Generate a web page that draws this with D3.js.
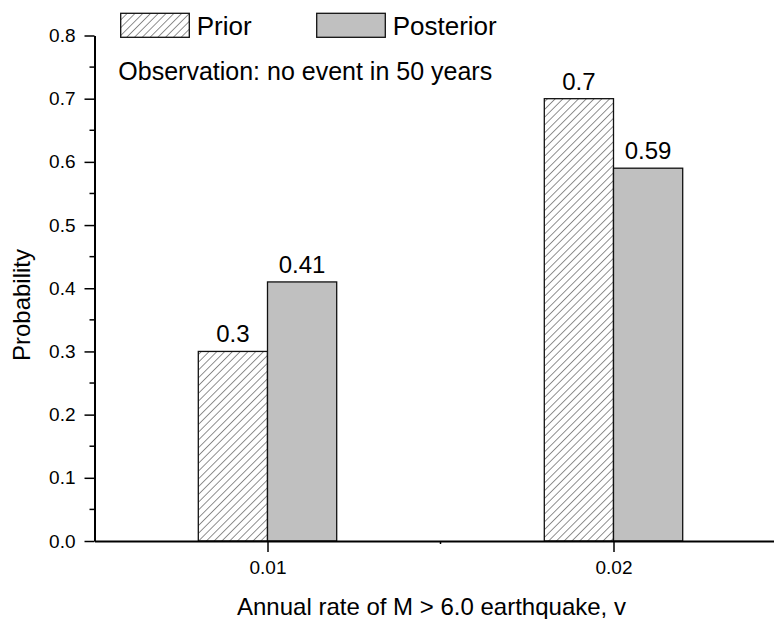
<!DOCTYPE html>
<html>
<head>
<meta charset="utf-8">
<script src="https://cdn.jsdelivr.net/npm/d3@7"></script>
<style>
  html, body { margin: 0; padding: 0; background: #fff; }
  text { font-family: "Liberation Sans", Arial, sans-serif; fill: #000; }
</style>
</head>
<body>
<svg id="chart" width="774" height="619"></svg>
<script>
// ---- data ----
const categories = [0.01, 0.02];
const priorValues = [0.3, 0.7];
const posteriorValues = [0.41, 0.59];
const priorLabels = ["0.3", "0.7"];
const posteriorLabels = ["0.41", "0.59"];
const yTickValues = [0, 0.1, 0.2, 0.3, 0.4, 0.5, 0.6, 0.7, 0.8];
const yTickLabels = ["0.0", "0.1", "0.2", "0.3", "0.4", "0.5", "0.6", "0.7", "0.8"];
const yMinorValues = [0.05, 0.15, 0.25, 0.35, 0.45, 0.55, 0.65, 0.75];
const xTickValues = [0.01, 0.02];
const xTickLabels = ["0.01", "0.02"];
const xMinorValues = [0.015];
const seriesNames = ["Prior", "Posterior"];
const note = "Observation: no event in 50 years";
const xTitle = "Annual rate of M > 6.0 earthquake, v";
const yTitle = "Probability";

// ---- layout ----
const svg = d3.select("#chart");
const axisLeft = 94.5, axisBottom = 541;
const x = d3.scaleLinear().domain([0.005, 0.025]).range([axisLeft, axisLeft + 0.02 * 34600]);
const y = d3.scaleLinear().domain([0, 0.8]).range([axisBottom, 35.5]);
const barW = 0.002;

// hatch pattern
const defs = svg.append("defs");
const pat = defs.append("pattern")
  .attr("id", "hatch").attr("patternUnits", "userSpaceOnUse")
  .attr("width", 5.5).attr("height", 5.5)
  .attr("patternTransform", "rotate(45)");
pat.append("rect").attr("width", 5.5).attr("height", 5.5).attr("fill", "#fff");
pat.append("line").attr("x1", 0).attr("y1", 0).attr("x2", 0).attr("y2", 5.5)
  .attr("stroke", "#222").attr("stroke-width", 1);

// bars
const g = svg.append("g");
g.selectAll("rect.prior").data(categories).enter().append("rect")
  .attr("class", "prior")
  .attr("x", (d) => x(d - barW))
  .attr("width", (d) => x(d) - x(d - barW))
  .attr("y", (d, i) => y(priorValues[i]))
  .attr("height", (d, i) => y(0) - y(priorValues[i]))
  .attr("fill", "url(#hatch)").attr("stroke", "#111").attr("stroke-width", 1.3);
g.selectAll("rect.post").data(categories).enter().append("rect")
  .attr("class", "post")
  .attr("x", (d) => x(d))
  .attr("width", (d) => x(d + barW) - x(d))
  .attr("y", (d, i) => y(posteriorValues[i]))
  .attr("height", (d, i) => y(0) - y(posteriorValues[i]))
  .attr("fill", "#c0c0c0").attr("stroke", "#111").attr("stroke-width", 1.3);

// bar labels
g.selectAll("text.pl").data(categories).enter().append("text")
  .attr("x", (d) => x(d - barW / 2)).attr("y", (d, i) => y(priorValues[i]) - 9)
  .attr("text-anchor", "middle").attr("font-size", 24).text((d, i) => priorLabels[i]);
g.selectAll("text.ql").data(categories).enter().append("text")
  .attr("x", (d) => x(d + barW / 2)).attr("y", (d, i) => y(posteriorValues[i]) - 9)
  .attr("text-anchor", "middle").attr("font-size", 24).text((d, i) => posteriorLabels[i]);

// y axis
const yAxis = d3.axisLeft(y).tickValues(yTickValues).tickFormat((d, i) => yTickLabels[i]).tickSizeInner(10).tickSizeOuter(0).tickPadding(9);
const ya = svg.append("g").attr("transform", `translate(${axisLeft},0)`).call(yAxis);
ya.select(".domain").attr("stroke", "#000").attr("stroke-width", 2);
ya.selectAll(".tick line").attr("stroke", "#000").attr("stroke-width", 1.5);
ya.selectAll(".tick text").attr("font-size", 19).attr("font-family", "Liberation Sans, Arial, sans-serif");
svg.append("g").selectAll("line").data(yMinorValues).enter().append("line")
  .attr("x1", axisLeft - 5).attr("x2", axisLeft)
  .attr("y1", (d) => y(d)).attr("y2", (d) => y(d))
  .attr("stroke", "#000").attr("stroke-width", 1.5);

// x axis
const xAxis = d3.axisBottom(x).tickValues(xTickValues).tickFormat((d, i) => xTickLabels[i]).tickSizeInner(11).tickSizeOuter(0).tickPadding(9);
const xa = svg.append("g").attr("transform", `translate(0,${axisBottom})`).call(xAxis);
xa.select(".domain").attr("stroke", "#000").attr("stroke-width", 2);
xa.selectAll(".tick line").attr("stroke", "#000").attr("stroke-width", 1.5);
xa.selectAll(".tick text").attr("font-size", 19).attr("font-family", "Liberation Sans, Arial, sans-serif");
svg.append("g").selectAll("line").data(xMinorValues).enter().append("line")
  .attr("x1", (d) => x(d)).attr("x2", (d) => x(d))
  .attr("y1", axisBottom).attr("y2", axisBottom + 3).attr("stroke", "#000").attr("stroke-width", 1.5);

// axis titles
svg.append("text").attr("x", 237).attr("y", 615)
  .attr("text-anchor", "start").attr("font-size", 24).text(xTitle);
svg.append("text").attr("transform", "translate(30,305) rotate(-90)")
  .attr("text-anchor", "middle").attr("font-size", 24).text(yTitle);

// legend
const legendX = [120.7, 316.7];
const legendFill = ["url(#hatch)", "#c0c0c0"];
seriesNames.forEach((name, i) => {
  svg.append("rect").attr("x", legendX[i]).attr("y", 13.3).attr("width", 68.6).attr("height", 24)
    .attr("fill", legendFill[i]).attr("stroke", "#111").attr("stroke-width", 1.3);
  svg.append("text").attr("x", legendX[i] + 76).attr("y", 35).attr("font-size", 26).text(name);
});
svg.append("text").attr("x", 118.3).attr("y", 80).attr("font-size", 25).text(note);
</script>
</body>
</html>
